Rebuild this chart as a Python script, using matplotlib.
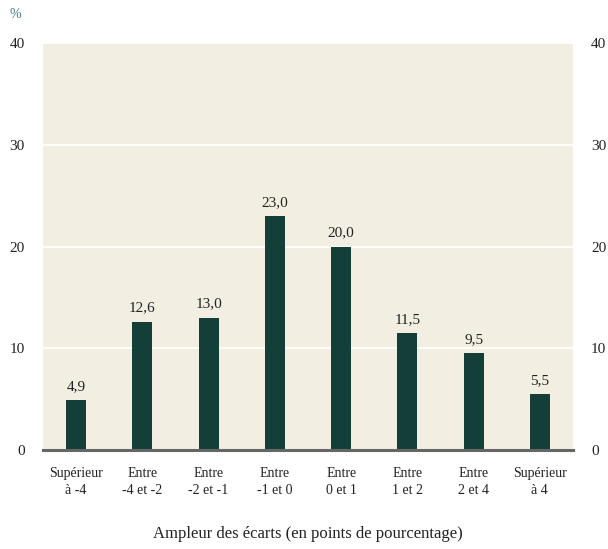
import matplotlib
matplotlib.use("Agg")
import matplotlib.pyplot as plt

categories = ["Supérieur\nà -4", "Entre\n-4 et -2", "Entre\n-2 et -1", "Entre\n-1 et 0",
              "Entre\n0 et 1", "Entre\n1 et 2", "Entre\n2 et 4", "Supérieur\nà 4"]
values = [4.9, 12.6, 13.0, 23.0, 20.0, 11.5, 9.5, 5.5]
yticks = [0, 10, 20, 30, 40]

plt.rcParams['font.family'] = ['Liberation Serif', 'DejaVu Serif']

fig = plt.figure(figsize=(6.08, 5.49), dpi=100)
ax = fig.add_axes([0.0707, 0.1803, 0.8717, 0.7414])
ax.set_facecolor('#F2EFE2')

x = list(range(len(values)))
ax.bar(x, values, width=0.3, color='#143F38', zorder=3)
for xi, v in zip(x, values):
    ax.text(xi, v + 0.7, f"{v:.1f}".replace('.', ','), ha='center', va='bottom',
            fontsize=11, color='#222222')

ax.set_xlim(-0.5, 7.5)
ax.set_ylim(0, 40)
ax.set_yticks(yticks)
ax.set_yticklabels([str(t) for t in yticks])
ax.grid(axis='y', color='white', linewidth=1.2, zorder=1)
ax.set_axisbelow(True)

for s in ['top', 'right', 'left']:
    ax.spines[s].set_visible(False)
ax.spines['bottom'].set_color('#666666')
ax.spines['bottom'].set_linewidth(2.2)
ax.spines['bottom'].set_zorder(4)

ax.tick_params(axis='y', length=0, labelsize=11, labelcolor='#222222',
               left=False, right=False, labelleft=True, labelright=True, pad=13)
ax.set_xticks(x)
ax.set_xticklabels(categories, fontsize=10, color='#222222', linespacing=1.45)
ax.tick_params(axis='x', length=0, pad=12)

ax.set_xlabel("Ampleur des écarts (en points de pourcentage)", fontsize=12,
              color='#222222', labelpad=21)

fig.text(0.016, 0.985, "%", fontsize=10, color='#3D7A74', ha='left', va='top')

fig.savefig("out.png", dpi=100)
